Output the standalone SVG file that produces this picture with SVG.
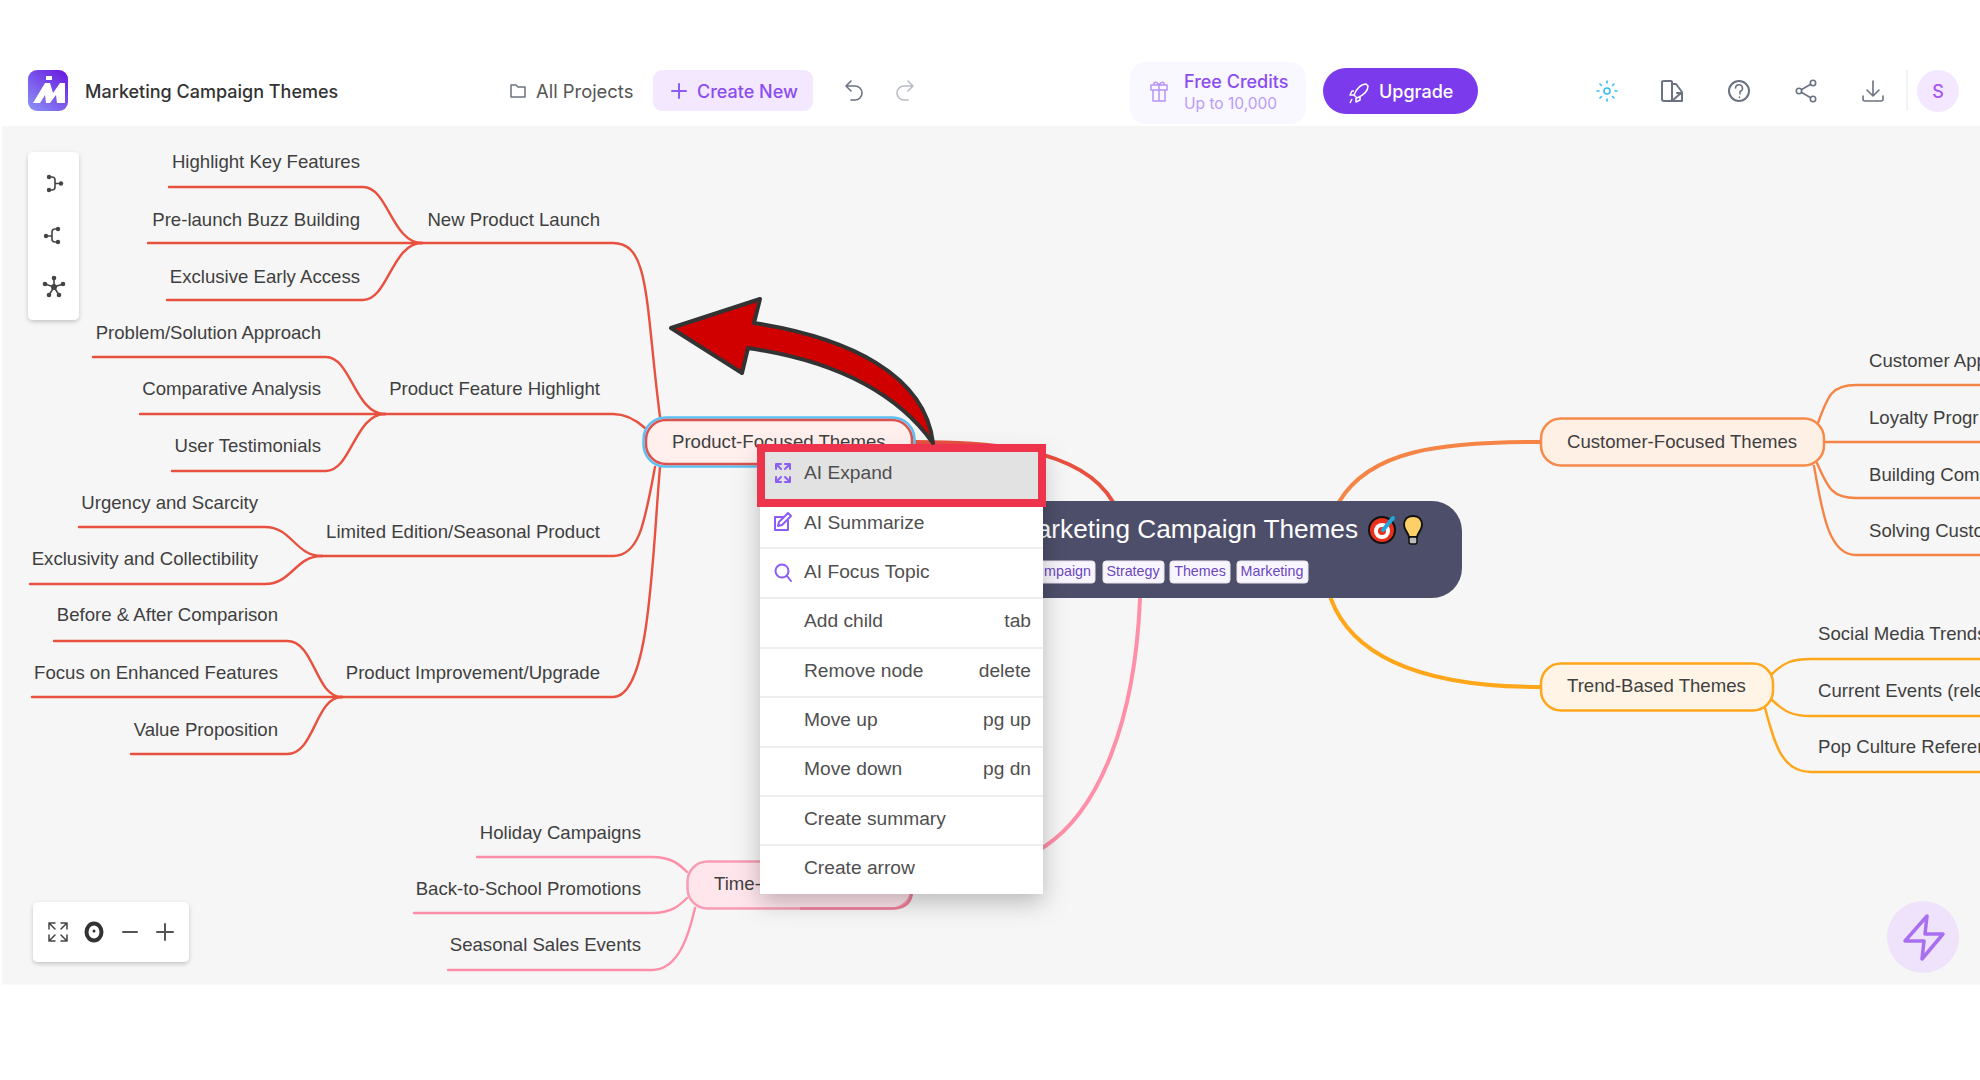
<svg xmlns="http://www.w3.org/2000/svg" width="1980" height="1080" viewBox="0 0 1980 1080">
<style>
text{font-family:"Liberation Sans",Arial,sans-serif}
.n{font-size:18.6px;fill:#3f3f3f;text-anchor:end}
.s{font-size:18.6px;fill:#3f3f3f}
.hd{font-family:Inter,"Liberation Sans",sans-serif;font-size:18px}
.mi{font-size:19.2px;fill:#4f4f4f}
.mk{font-size:19.2px;fill:#4f4f4f;text-anchor:end}
.tag{font-size:14.3px;fill:#6b46c1;text-anchor:middle}
.tr{fill:#f8f6fc;stroke:#e6e2f0;stroke-width:1}
.l{fill:none;stroke-width:2.4;stroke-linecap:round}
.red{stroke:#e8503f}.or{stroke:#f58546}.ye{stroke:#ffa61a}.pk{stroke:#ff8fa8}
.ic{fill:none;stroke:#6b7280;stroke-width:2;stroke-linecap:round;stroke-linejoin:round}
.pi{fill:none;stroke:#8b5cf6;stroke-width:2;stroke-linecap:round;stroke-linejoin:round}
.tb{fill:none;stroke:#444;stroke-width:1.6;stroke-linecap:round;stroke-linejoin:round}
.dot{fill:#444}
.sep{stroke:#eeeeee;stroke-width:2}
</style>
<defs>
<linearGradient id="lg" x1="0.9" y1="0" x2="0.1" y2="1"><stop offset="0" stop-color="#6a1be0"/><stop offset="1" stop-color="#8a90f5"/></linearGradient>
<filter id="sh" x="-20%" y="-20%" width="140%" height="140%"><feDropShadow dx="0" dy="2" stdDeviation="2" flood-color="#000" flood-opacity="0.2"/></filter>
<filter id="msh" x="-20%" y="-10%" width="140%" height="120%"><feDropShadow dx="0" dy="8" stdDeviation="12" flood-color="#000" flood-opacity="0.25"/></filter>
</defs>
<rect width="1980" height="1080" fill="#fff"/>
<rect x="2" y="126" width="1978" height="858.500" fill="#f6f6f6"/>

<g id="header">
<rect x="28" y="70" width="40" height="41" rx="9" fill="url(#lg)"/>
<path d="M33,103 L45,83 H50 L53,93 L60,83 H65 L65,103 H57 L56,95 L50,103 H46 L45,95 L40,103 Z" fill="#fff"/>
<rect x="46" y="76" width="6" height="4" fill="#fff"/>
<text x="85" y="98" class="hd" fill="#333" font-weight="500">Marketing Campaign Themes</text>
<path class="ic" style="stroke-width:1.5" d="M511,85 h5 l2,2 h7 v10 h-14 z"/>
<text x="536" y="98" class="hd" fill="#555" style="font-size:18.4px">All Projects</text>
<rect x="653" y="70" width="160" height="41" rx="9" fill="#f3e8ff"/>
<path class="pi" d="M679,84 v14 M672,91 h14"/>
<text x="697" y="98" class="hd" fill="#8b4cf0" font-weight="500">Create New</text>
<path class="ic" style="stroke-width:1.6" d="M851,81 l-5,5 5,5 M846,86 h9 a6.500,6.500 0 0 1 0,14 h-4"/>
<path class="ic" style="stroke:#b8bcc4;stroke-width:1.6" d="M908,81 l5,5 -5,5 M913,86 h-9 a6.500,6.500 0 0 0 0,14 h4"/>
<rect x="1130" y="62" width="176" height="62" rx="16" fill="#f9f7ff"/>
<path class="pi" style="stroke:#b794f6;stroke-width:1.5" d="M1153,90 h12 v11 h-12 z M1151,85 h16 v5 h-16 z M1159,85 v16 M1159,85 c-3,-5 -7,-2 -4,0 M1159,85 c3,-5 7,-2 4,0"/>
<text x="1184" y="88" class="hd" fill="#8b4cf0" font-weight="500">Free Credits</text>
<text x="1184" y="109" class="hd" fill="#b99cf5" style="font-size:15.5px">Up to 10,000</text>
<rect x="1323" y="68" width="155" height="46" rx="23" fill="#7c3aed"/>
<path fill="none" stroke="#fff" stroke-width="1.500" stroke-linejoin="round" d="M1366,84 c-5,0 -9,4 -12,11 l3,3 c7,-3 11,-7 11,-12 z M1354,91 h-2 l-2,4 h4 M1360,97 v3 l-4,2 v-4 M1352,99 l-2,4"/>
<text x="1379" y="98" class="hd" fill="#fff" font-weight="500">Upgrade</text>
<g stroke="#38bdf8" stroke-width="1.600" stroke-linecap="round" fill="none"><circle cx="1607" cy="91" r="3"/><path d="M1607,81 v2 M1607,99 v2 M1597,91 h2 M1615,91 h2 M1600,84 l1.500,1.500 M1612.500,96.500 l1.500,1.500 M1600,98 l1.500,-1.500 M1612.500,85.500 l1.500,-1.500"/></g>
<path class="ic" d="M1664,81 h7 q1,0 1,1 v17 q0,2 -2,2 h-6 q-2,0 -2,-2 v-17 q0,-1 2,-1 z M1672,84 l4,0 l6,8 l-10,9 M1677,93 h5 v8 h-10"/>
<circle class="ic" cx="1739" cy="91" r="10"/><path class="ic" style="stroke-width:1.500" d="M1735.500,88 a3.500,3.500 0 1 1 4.500,3.500 v2.500 M1739.500,97 v.5"/>
<g class="ic" style="stroke-width:1.600"><circle cx="1813" cy="83" r="2.700"/><circle cx="1799" cy="91" r="2.700"/><circle cx="1813" cy="99" r="2.700"/><path d="M1810.700,84.300 L1801.300,89.700 M1801.300,92.300 L1810.700,97.700"/></g>
<path class="ic" style="stroke-width:1.600" d="M1873,81 v15 M1867,90 l6,6 6,-6 M1863,96 v3 q0,2 2,2 h16 q2,0 2,-2 v-3"/>
<line x1="1907" y1="70" x2="1907" y2="111" stroke="#e5e7eb"/>
<circle cx="1938" cy="91" r="21" fill="#f3e8ff"/>
<text x="1938" y="98" class="hd" fill="#a855f7" text-anchor="middle" font-weight="500">S</text>
</g>

<g id="connectors">
<path class="l red" style="stroke-width:4" d="M915,442 C980,442 1080,445 1113,502"/>
<path class="l or" style="stroke-width:4" d="M1339,502 C1370,450 1440,442 1540,442"/>
<path class="l ye" style="stroke-width:4" d="M1331,599 C1350,650 1410,687 1540,687"/>
<path class="l pk" style="stroke-width:4" d="M1140,599 C1135,720 1100,810 1044,847 C1010,872 960,885 912,885"/>
<path class="l red" d="M422,243 H613 C650,243 645,300 660,417"/>
<path class="l red" d="M385,414 H613 C625,414 635,419 645,428"/>
<path class="l red" d="M322,556 H613 C640,556 645,520 655,467"/>
<path class="l red" d="M342,697 H613 C650,697 652,560 660,467"/>
<path class="l red" d="M169,187 H363 C388,187 392,243 422,243"/>
<path class="l red" d="M148,243 H422"/>
<path class="l red" d="M167,300 H363 C388,300 392,243 422,243"/>
<path class="l red" d="M93,357 H326 C351,357 355,414 385,414"/>
<path class="l red" d="M140,414 H385"/>
<path class="l red" d="M172,471 H326 C351,471 355,414 385,414"/>
<path class="l red" d="M79,527 H265 C292,527 295,556 322,556"/>
<path class="l red" d="M30,584 H265 C292,584 295,556 322,556"/>
<path class="l red" d="M54,641 H287 C315,641 315,697 342,697"/>
<path class="l red" d="M32,697 H342"/>
<path class="l red" d="M131,754 H287 C315,754 315,697 342,697"/>
<path class="l pk" d="M477,857 H652 C672,857 680,865 687,872"/>
<path class="l pk" d="M414,913 H652 C672,913 680,905 687,898"/>
<path class="l pk" d="M448,970 H652 C680,970 690,930 695,908"/>
<path class="l or" d="M1818,423 C1828,395 1832,385 1856,385 H1980"/>
<path class="l or" d="M1825,442 H1980"/>
<path class="l or" d="M1817,463 C1828,488 1832,498 1856,498 H1980"/>
<path class="l or" d="M1814,466 C1822,510 1828,555 1856,555 H1980"/>
<path class="l ye" d="M1772,674 C1785,662 1792,659 1811,659 H1980"/>
<path class="l ye" d="M1772,700 C1785,712 1792,716 1811,716 H1980"/>
<path class="l ye" d="M1765,708 C1775,745 1782,772 1811,772 H1980"/>
</g>

<g id="node-central">
<rect x="960" y="501" width="502" height="97" rx="30" fill="#4d4e69"/>
<text x="1358" y="538" font-size="26.2" fill="#fff" text-anchor="end">arketing Campaign Themes</text>
<circle cx="1382" cy="530" r="13" fill="#e8301f" stroke="#111" stroke-width="2"/>
<circle cx="1382" cy="531" r="8" fill="#fff"/><circle cx="1382" cy="531" r="4" fill="#e8301f"/>
<path d="M1383,530 L1393,518" stroke="#1fa8e0" stroke-width="4" stroke-linecap="round"/>
<path d="M1413,516 c-6,0 -9,4 -9,9 c0,5 4,7 5,12 h8 c1,-5 5,-7 5,-12 c0,-5 -3,-9 -9,-9 z" fill="#fdd067" stroke="#111" stroke-width="2"/>
<rect x="1409" y="537" width="8" height="7" rx="2" fill="#bbb" stroke="#111" stroke-width="1.500"/>
<rect class="tr" x="1030" y="561" width="65" height="22" rx="3"/>
<text class="tag" x="1091" y="576" style="text-anchor:end">mpaign</text>
<rect class="tr" x="1103" y="561" width="61" height="22" rx="3"/>
<text class="tag" x="1133" y="576">Strategy</text>
<rect class="tr" x="1170" y="561" width="60" height="22" rx="3"/>
<text class="tag" x="1200" y="576">Themes</text>
<rect class="tr" x="1237" y="561" width="71" height="22" rx="3"/>
<text class="tag" x="1272" y="576">Marketing</text>
</g>

<g id="node-product-focused">
<rect x="643.500" y="417.500" width="271" height="49" rx="22" fill="#fff0ee" stroke="#5cc0f5" stroke-width="2.500"/>
<rect x="646" y="420" width="266" height="44" rx="20" fill="none" stroke="#d9534f" stroke-width="2.500"/>
<text class="s" x="672" y="447.500">Product-Focused Themes</text>
</g>
<g id="node-customer-focused">
<rect x="1541" y="418.500" width="283" height="47" rx="20" fill="#fff0e6" stroke="#f58a4b" stroke-width="2.500"/>
<text class="s" x="1567" y="447.500">Customer-Focused Themes</text>
</g>
<g id="node-trend-based">
<rect x="1541" y="663.500" width="232" height="47" rx="20" fill="#fff4e6" stroke="#ffa61a" stroke-width="2.500"/>
<text class="s" x="1567" y="691.500">Trend-Based Themes</text>
</g>
<g id="node-time-based">
<rect x="687.500" y="861.500" width="224" height="47" rx="20" fill="#ffe6ec" stroke="#f79cb2" stroke-width="2.500"/>
<path d="M912,890 C912,903 905,908.500 892,908.500 H800" fill="none" stroke="#ee7f98" stroke-width="2.500"/>
<text class="s" x="714" y="889.500">Time-</text>
</g>

<g id="node-new-product-launch"><text class="n" x="600" y="225.500">New Product Launch</text></g>
<g id="node-highlight"><text class="n" x="360" y="168">Highlight Key Features</text></g>
<g id="node-prelaunch"><text class="n" x="360" y="225.500">Pre-launch Buzz Building</text></g>
<g id="node-early"><text class="n" x="360" y="282.500">Exclusive Early Access</text></g>
<g id="node-feature"><text class="n" x="600" y="394.500">Product Feature Highlight</text></g>
<g id="node-problem"><text class="n" x="321" y="338.500">Problem/Solution Approach</text></g>
<g id="node-comparative"><text class="n" x="321" y="394.500">Comparative Analysis</text></g>
<g id="node-testimonials"><text class="n" x="321" y="452">User Testimonials</text></g>
<g id="node-limited"><text class="n" x="600" y="537.500">Limited Edition/Seasonal Product</text></g>
<g id="node-urgency"><text class="n" x="258" y="508.500">Urgency and Scarcity</text></g>
<g id="node-exclusivity"><text class="n" x="258" y="565">Exclusivity and Collectibility</text></g>
<g id="node-improvement"><text class="n" x="600" y="678.500">Product Improvement/Upgrade</text></g>
<g id="node-before"><text class="n" x="278" y="621">Before &amp; After Comparison</text></g>
<g id="node-enhanced"><text class="n" x="278" y="678.500">Focus on Enhanced Features</text></g>
<g id="node-value"><text class="n" x="278" y="735.500">Value Proposition</text></g>
<g id="node-holiday"><text class="n" x="641" y="838.500">Holiday Campaigns</text></g>
<g id="node-school"><text class="n" x="641" y="895">Back-to-School Promotions</text></g>
<g id="node-seasonal"><text class="n" x="641" y="951">Seasonal Sales Events</text></g>
<g id="node-appreciation"><text class="s" x="1869" y="367">Customer App</text></g>
<g id="node-loyalty"><text class="s" x="1869" y="423.500">Loyalty Progr</text></g>
<g id="node-community"><text class="s" x="1869" y="481">Building Com</text></g>
<g id="node-solving"><text class="s" x="1869" y="537">Solving Custo</text></g>
<g id="node-social"><text class="s" x="1818" y="639.500">Social Media Trends</text></g>
<g id="node-events"><text class="s" x="1818" y="696.500">Current Events (rele</text></g>
<g id="node-pop"><text class="s" x="1818" y="753">Pop Culture Referen</text></g>

<g id="left-toolbar">
<rect x="28" y="152" width="51" height="168" rx="5" fill="#fff" filter="url(#sh)"/>
<path class="tb" d="M49,177 h3 q3,0 3,3 v7 q0,3 -3,3 h-3 M55,183.500 h6"/>
<circle class="dot" cx="49" cy="177" r="2.200"/><circle class="dot" cx="49" cy="190" r="2.200"/><circle class="dot" cx="61" cy="183.500" r="2.200"/>
<path class="tb" d="M58,229 h-3 q-3,0 -3,3 v7 q0,3 3,3 h3 M52,236 h-6"/>
<circle class="dot" cx="58" cy="229" r="2.200"/><circle class="dot" cx="58" cy="242" r="2.200"/><circle class="dot" cx="46" cy="236" r="2.200"/>
<path class="tb" d="M54,287 L54,278 M54,287 L45,284 M54,287 L63,284 M54,287 L49,295 M54,287 L59,295"/>
<circle class="dot" cx="54" cy="287" r="3"/><circle class="dot" cx="54" cy="278" r="2.300"/><circle class="dot" cx="45" cy="284" r="2.300"/><circle class="dot" cx="63" cy="284" r="2.300"/><circle class="dot" cx="49" cy="295" r="2.300"/><circle class="dot" cx="59" cy="295" r="2.300"/>
</g>
<g id="zoom-toolbar">
<rect x="33" y="902" width="156" height="60" rx="5" fill="#fff" filter="url(#sh)"/>
<path class="ic" style="stroke:#444;stroke-width:1.500" d="M49,929 v-6 h6 M67,929 v-6 h-6 M49,935 v6 h6 M67,935 v6 h-6 M50,924 l5,5 M66,924 l-5,5 M50,940 l5,-5 M66,940 l-5,-5"/>
<ellipse cx="94" cy="932" rx="7.500" ry="8.500" fill="#fff" stroke="#333" stroke-width="4"/><circle cx="94" cy="931" r="1.500" fill="#333"/>
<path class="ic" style="stroke:#555" d="M123,932 h14 M165,924 v16 M157,932 h16"/>
</g>
<g id="flash-button">
<circle cx="1923" cy="937" r="36" fill="#efe2fb"/>
<path d="M1927,916 L1905,941 H1924 L1922,959 L1943,934 H1925 Z" fill="none" stroke="#a96ff0" stroke-width="3.500" stroke-linejoin="round"/>
</g>

<g id="context-menu">
<rect x="760" y="450" width="283" height="444" fill="#fff" filter="url(#msh)"/>
<path class="sep" d="M760,548 H1043 M760,598 H1043 M760,648 H1043 M760,697 H1043 M760,747 H1043 M760,796 H1043 M760,845 H1043"/>
<rect x="761" y="448" width="281" height="55" fill="#e2e2e2" stroke="#ee344c" stroke-width="8"/>
<path class="pi" d="M776,469 v-5 h5 M790,469 v-5 h-5 M776,477 v5 h5 M790,477 v5 h-5 M777,465 l4,4 M789,465 l-4,4 M777,481 l4,-4 M789,481 l-4,-4"/>
<path class="pi" d="M788,520 v10 h-13 v-13 h8 M778,526 l1,-4 9,-9 3,3 -9,9 z"/>
<circle class="pi" cx="782" cy="571" r="6.500"/><path class="pi" d="M787,576 l4,5"/>
<text class="mi" x="804" y="479">AI Expand</text>
<text class="mi" x="804" y="529">AI Summarize</text>
<text class="mi" x="804" y="578">AI Focus Topic</text>
<text class="mi" x="804" y="627">Add child</text>
<text class="mk" x="1031" y="627">tab</text>
<text class="mi" x="804" y="677">Remove node</text>
<text class="mk" x="1031" y="677">delete</text>
<text class="mi" x="804" y="726">Move up</text>
<text class="mk" x="1031" y="726">pg up</text>
<text class="mi" x="804" y="775">Move down</text>
<text class="mk" x="1031" y="775">pg dn</text>
<text class="mi" x="804" y="825">Create summary</text>
<text class="mi" x="804" y="874">Create arrow</text>
</g>

<g id="red-arrow">
<path d="M671,328 L760,299 L754,323 C850,338 925,375 933,443 C895,390 830,360 748,348 L742,373 Z" fill="#d00000" stroke="#333" stroke-width="4" stroke-linejoin="round"/>
</g>
</svg>
